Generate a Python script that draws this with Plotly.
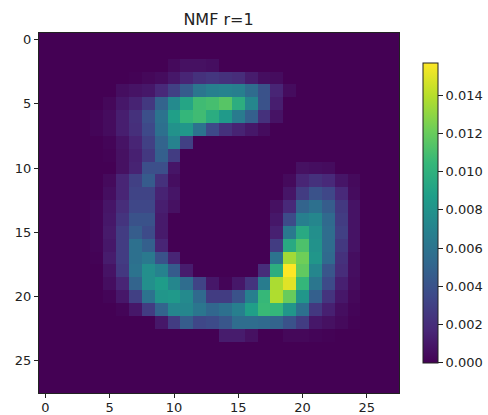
import numpy as np
import plotly.graph_objects as go

TITLE = "NMF r=1"
COLORBAR_TICKS = [0.0, 0.002, 0.004, 0.006, 0.008, 0.010, 0.012, 0.014]
COLORBAR_LABELS = ["0.000", "0.002", "0.004", "0.006", "0.008", "0.010", "0.012", "0.014"]
AXIS_TICKS = [0, 5, 10, 15, 20, 25]
Z_MAX = 0.0157

# Pixel intensities, in units of 0.0001, listed as {row: (first column, values)}
rows = {
    2: (10, [4, 7, 7, 6]),
    3: (7, [1, 3, 5, 10, 16, 22, 25, 22, 20, 12, 6, 5]),
    4: (6, [6, 8, 10, 18, 30, 45, 62, 68, 70, 68, 55, 40, 16, 5]),
    5: (5, [3, 10, 15, 26, 50, 75, 92, 108, 110, 115, 98, 72, 40, 13]),
    6: (4, [2, 5, 13, 22, 38, 60, 88, 104, 108, 97, 85, 65, 48, 22, 8]),
    7: (4, [2, 5, 13, 21, 35, 58, 80, 83, 60, 35, 22, 15, 10, 5]),
    8: (5, [2, 8, 16, 30, 50, 70, 30]),
    9: (5, [1, 7, 14, 26, 48, 28]),
    10: (6, [7, 15, 38, 38, 9, 0, 0, 0, 0, 0, 0, 0, 0, 0, 7, 6, 5]),
    11: (5, [4, 16, 30, 45, 22, 6, 0, 0, 0, 0, 0, 0, 0, 0, 4, 16, 22, 18, 9, 4]),
    12: (5, [6, 16, 32, 32, 15, 9, 0, 0, 0, 0, 0, 0, 0, 0, 9, 28, 40, 34, 18, 5]),
    13: (4, [2, 9, 20, 34, 34, 13, 7, 0, 0, 0, 0, 0, 0, 0, 7, 18, 50, 58, 46, 26, 8]),
    14: (4, [2, 10, 24, 40, 40, 11, 0, 0, 0, 0, 0, 0, 0, 0, 10, 36, 68, 72, 54, 28, 8]),
    15: (4, [2, 11, 28, 46, 36, 11, 0, 0, 0, 0, 0, 0, 0, 0, 14, 64, 95, 78, 56, 30, 8]),
    16: (4, [2, 10, 28, 58, 48, 16, 0, 0, 0, 0, 0, 0, 0, 0, 28, 95, 112, 80, 56, 26, 8]),
    17: (4, [1, 12, 28, 58, 64, 40, 16, 0, 0, 0, 0, 0, 0, 0, 60, 135, 122, 82, 54, 22, 6]),
    18: (5, [8, 26, 60, 78, 70, 45, 12, 0, 0, 0, 0, 0, 20, 98, 157, 118, 72, 42, 20, 6]),
    19: (5, [6, 16, 50, 78, 86, 72, 56, 32, 10, 2, 10, 24, 66, 137, 150, 104, 62, 36, 14, 5]),
    20: (5, [2, 10, 30, 60, 82, 84, 75, 54, 28, 28, 40, 68, 105, 138, 120, 82, 48, 24, 10, 3]),
    21: (6, [2, 10, 28, 50, 72, 72, 62, 52, 58, 68, 88, 106, 104, 82, 58, 26, 14, 6, 2]),
    22: (9, [10, 28, 46, 34, 36, 42, 56, 56, 54, 50, 40, 28, 10, 7, 4, 1]),
    23: (14, [12, 12, 7, 0, 0, 3, 3, 2, 1]),
}

z = np.zeros((28, 28))
for r, (start, vals) in rows.items():
    z[r, start:start + len(vals)] = np.array(vals) / 10000

W, H = 488, 415
L, R, T, B = 38.5, 399.0, 32.5, 393.0
FONT = "DejaVu Sans"

fig = go.Figure(go.Heatmap(
    z=z,
    colorscale="Viridis",
    zmin=0,
    zmax=Z_MAX,
    zsmooth=False,
    colorbar=dict(
        x=(423.3 - L) / (R - L),
        xanchor="left",
        y=(B - 362.7) / (B - T),
        yanchor="bottom",
        len=300 / (B - T),
        lenmode="fraction",
        thickness=15,
        thicknessmode="pixels",
        outlinewidth=1,
        outlinecolor="#222",
        tickvals=COLORBAR_TICKS,
        ticktext=COLORBAR_LABELS,
        ticks="outside",
        ticklen=5,
        tickwidth=1,
        tickcolor="#222",
        tickfont=dict(family=FONT, size=13, color="#222"),
        xpad=0,
        ypad=0,
    ),
))

axis = dict(
    range=[-0.5, 27.5],
    tickvals=AXIS_TICKS,
    ticks="outside",
    ticklen=4,
    tickwidth=1,
    tickcolor="#222",
    showline=True,
    mirror=True,
    linecolor="#222",
    linewidth=1,
    showgrid=False,
    zeroline=False,
    tickfont=dict(family=FONT, size=13, color="#222"),
)
fig.update_xaxes(**axis, ticklabelstandoff=-2)
fig.update_yaxes(**{**axis, "range": [27.5, -0.5]})

fig.update_layout(
    width=W,
    height=H,
    autosize=False,
    paper_bgcolor="white",
    plot_bgcolor="white",
    margin=dict(l=L, r=W - R, t=T, b=H - B, pad=0, autoexpand=False),
    title=dict(
        text=TITLE,
        x=218.5 / W,
        xanchor="center",
        y=1 - 19 / H,
        yanchor="middle",
        font=dict(family=FONT, size=16, color="#222"),
    ),
)

fig.write_html(
    "out.html",
    config={"displayModeBar": False},
    post_script="document.body.style.margin='0';document.body.style.overflow='hidden';",
)
